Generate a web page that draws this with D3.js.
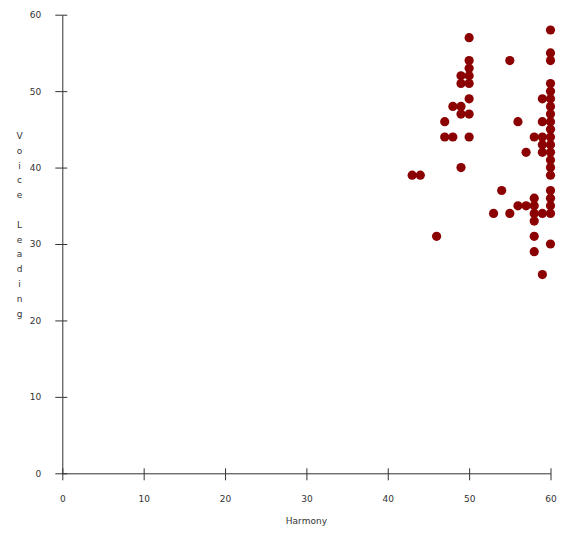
<!DOCTYPE html>
<html>
<head>
<meta charset="utf-8">
<script src="https://cdn.jsdelivr.net/npm/d3@7"></script>
<style>
  body { margin: 0; background: #fff; }
  text { font-family: "DejaVu Sans", Verdana, sans-serif; font-size: 9px; fill: #333; }
</style>
</head>
<body>
<div id="chart-area"></div>
<script>
// Harmony (x) and Voice Leading (y) for each point
var harmony = [
    43, 44, 46, 47, 47, 48, 48,
    49, 49, 49, 49, 49,
    50, 50, 50, 50, 50, 50, 50, 50,
    53, 54, 55, 55, 56, 56, 57, 57,
    58, 58, 58, 58, 58, 58, 58,
    59, 59, 59, 59, 59, 59, 59,
    60, 60, 60, 60, 60, 60, 60, 60, 60, 60, 60,
    60, 60, 60, 60, 60, 60, 60, 60, 60, 60
];
var voiceLeading = [
    39, 39, 31, 46, 44, 48, 44,
    52, 51, 48, 47, 40,
    57, 54, 53, 52, 51, 49, 47, 44,
    34, 37, 54, 34, 46, 35, 42, 35,
    44, 36, 35, 34, 33, 31, 29,
    49, 46, 44, 43, 42, 34, 26,
    58, 55, 54, 51, 50, 49, 48, 47, 46, 45, 44,
    43, 42, 41, 40, 39, 37, 36, 35, 34, 30
];
var xTicks = [0, 10, 20, 30, 40, 50, 60];
var yTicks = [0, 10, 20, 30, 40, 50, 60];

var width = 586, height = 534;

var svg = d3.select("#chart-area")
    .append("svg")
    .attr("width", width)
    .attr("height", height);

var x = d3.scaleLinear().domain([0, 60]).range([62.3, 550.5]);
var y = d3.scaleLinear().domain([0, 60]).range([473.3, 14.7]);

// y axis, ticks cross the line (7 left, 5 right)
var yAxis = svg.append("g")
    .attr("transform", "translate(" + x(0) + ",0)")
    .call(d3.axisLeft(y).tickValues(yTicks).tickSize(7).tickPadding(14).tickSizeOuter(0));

yAxis.selectAll(".tick").append("line")
    .attr("x2", 5)
    .attr("stroke", "currentColor");

// x axis, ticks cross the line (5 up, 7 down)
var xAxis = svg.append("g")
    .attr("transform", "translate(0," + y(0) + ")")
    .call(d3.axisBottom(x).tickValues(xTicks).tickSize(7).tickPadding(15).tickSizeOuter(0));

xAxis.selectAll(".tick").append("line")
    .attr("y2", -5)
    .attr("stroke", "currentColor");

svg.selectAll(".domain, .tick line").attr("stroke", "#333");
svg.selectAll(".tick text")
    .style("font-family", "'DejaVu Sans', Verdana, sans-serif")
    .style("font-size", "9px")
    .attr("fill", "#333");
xAxis.selectAll(".tick text").attr("dy", "0.71em");

// axis titles
svg.append("text")
    .attr("x", (x(0) + x(60)) / 2)
    .attr("y", 524)
    .attr("text-anchor", "middle")
    .text("Harmony");

var title = "Voice Leading".split("");
svg.append("text")
    .attr("text-anchor", "middle")
    .selectAll("tspan")
    .data(title)
    .enter().append("tspan")
    .attr("x", 19.5)
    .attr("y", function (d, i) { return 139 + i * 14.8; })
    .text(function (d) { return d === " " ? "\u00a0" : d; });

// points
var points = harmony.map(function (h, i) { return { h: h, v: voiceLeading[i] }; });

svg.append("g")
    .selectAll("circle")
    .data(points)
    .enter().append("circle")
    .attr("cx", function (d) { return x(d.h); })
    .attr("cy", function (d) { return y(d.v); })
    .attr("r", 4.6)
    .attr("fill", "#8b0000");
</script>
</body>
</html>
